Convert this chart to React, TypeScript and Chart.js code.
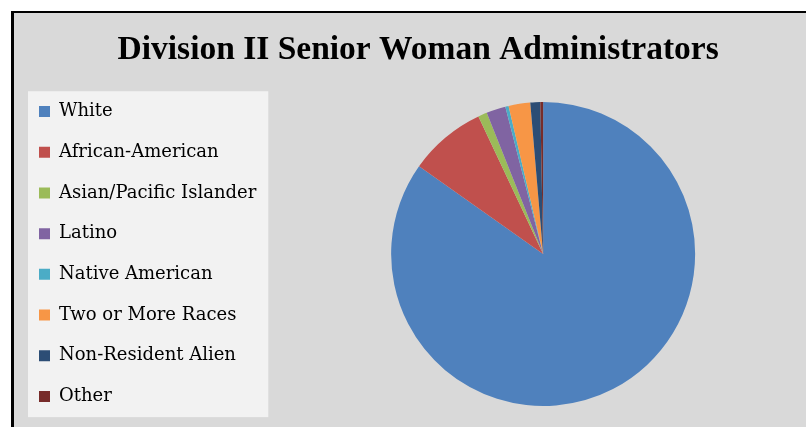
import { useEffect, useRef } from "react";
import { Chart, registerables } from "chart.js";

Chart.register(...registerables);

const chartTitle = "Division II Senior Woman Administrators";
const categories = [
  "White",
  "African-American",
  "Asian/Pacific Islander",
  "Latino",
  "Native American",
  "Two or More Races",
  "Non-Resident Alien",
  "Other",
];
const shares = [84.8, 8.2, 0.95, 2.05, 0.35, 2.3, 1.05, 0.3];
const sliceColors = [
  "#4F81BD",
  "#C0504D",
  "#9BBB59",
  "#8064A2",
  "#4BACC6",
  "#F79646",
  "#2C4D75",
  "#772C2A",
];

const legendBackground = {
  id: "legendBackground",
  beforeDraw(chart: any) {
    const lg = chart.legend;
    const hb = lg && lg.legendHitBoxes;
    if (!hb || !hb.length) return;
    const ctx = chart.ctx;
    const left = hb[0].left - 11;
    const right = Math.max(...hb.map((h: any) => h.left + h.width)) + 12;
    const top = hb[0].top - 11.3;
    const last = hb[hb.length - 1];
    const bottom = last.top + last.height + 11.7;
    ctx.save();
    ctx.fillStyle = "#f2f2f2";
    ctx.fillRect(left, top, right - left, bottom - top);
    ctx.restore();
  },
};

export default function App() {
  const ref = useRef<HTMLCanvasElement | null>(null);

  useEffect(() => {
    if (!ref.current) return;
    const chart = new Chart(ref.current, {
      type: "pie",
      data: {
        labels: categories,
        datasets: [
          {
            data: shares,
            backgroundColor: sliceColors,
            borderWidth: 0,
            hoverOffset: 0,
            radius: 152,
          } as any,
        ],
      },
      options: {
        responsive: false,
        animation: false,
        events: [],
        layout: { padding: { left: 16.3, top: 0, right: 20, bottom: 11 } },
        plugins: {
          title: {
            display: true,
            text: chartTitle,
            color: "#000",
            font: { family: "'Liberation Serif', serif", size: 33.5, weight: "bold" },
            padding: { top: 29.9, bottom: 8.9 },
          },
          legend: {
            position: "left",
            align: "center",
            fullSize: false,
            labels: {
              boxWidth: 11,
              boxHeight: 11,
              padding: 22.7,
              color: "#000",
              font: { family: "'DejaVu Serif', serif", size: 18 },
            },
          },
          tooltip: { enabled: false },
        },
      } as any,
      plugins: [legendBackground],
    });
    return () => chart.destroy();
  }, []);

  return (
    <div
      style={{
        position: "fixed",
        left: 0,
        top: 0,
        width: 806,
        height: 427,
        overflow: "hidden",
        background: "#fff",
      }}
    >
      <div
        style={{
          position: "absolute",
          left: 11,
          top: 11,
          width: 900,
          height: 500,
          borderLeft: "3px solid #000",
          borderTop: "2px solid #000",
          background: "#d9d9d9",
        }}
      />
      <canvas
        ref={ref}
        width={840}
        height={440}
        style={{ position: "absolute", left: 0, top: 0, width: 840, height: 440 }}
      />
    </div>
  );
}
